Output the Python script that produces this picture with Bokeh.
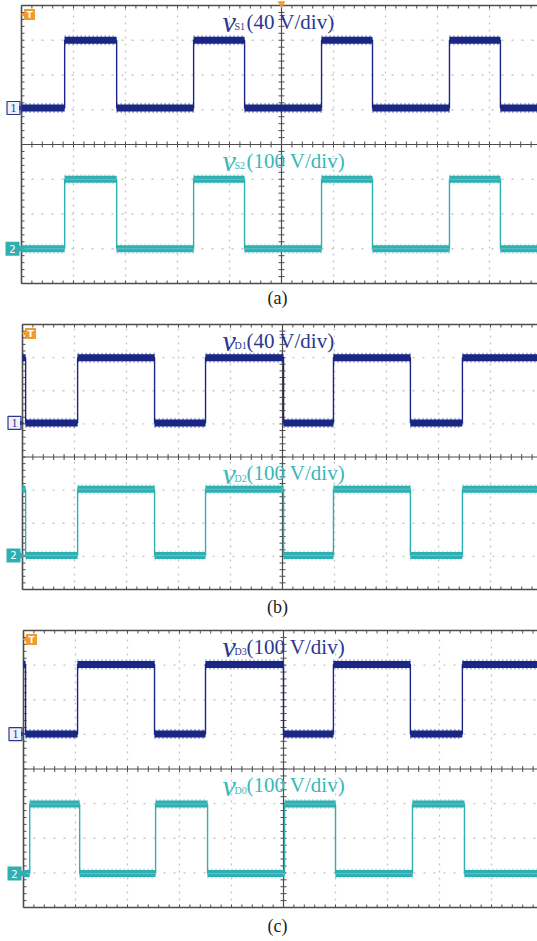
import numpy as np
from bokeh.plotting import figure
from bokeh.models import Range1d
from bokeh.layouts import column
from bokeh.core.properties import value
from bokeh.embed import file_html
from bokeh.resources import INLINE

# ---------------- data (divisions) ----------------
captions = ["(a)", "(b)", "(c)"]
ch1_subs = ["S1", "D1", "D3"]
ch1_scales = ["(40 V/div)", "(40 V/div)", "(100 V/div)"]
ch2_subs = ["S2", "D2", "D0"]
ch2_scales = ["(100 V/div)", "(100 V/div)", "(100 V/div)"]

# switching edges (time, in horizontal divisions from the screen's left edge)
a_ch1_edges = [0.83, 1.83, 3.31, 4.29, 5.77, 6.75, 8.23, 9.21]
a_ch2_edges = [0.83, 1.83, 3.31, 4.29, 5.77, 6.75, 8.23, 9.21]
b_ch1_edges = [0.06, 1.06, 2.54, 3.52, 5.02, 5.98, 7.46, 8.46]
b_ch2_edges = [0.06, 1.06, 2.54, 3.52, 5.02, 5.98, 7.46, 8.46]
c_ch1_edges = [0.04, 1.04, 2.52, 3.50, 5.00, 5.96, 7.44, 8.44]
c_ch2_edges = [0.12, 1.08, 2.54, 3.54, 5.02, 6.00, 7.48, 8.48]

# initial state (True = high) at the screen's left edge
a_ch1_start_high, a_ch2_start_high = False, False
b_ch1_start_high, b_ch2_start_high = True, True
c_ch1_start_high, c_ch2_start_high = True, False

# levels (vertical divisions, screen centre = 0)
a_ch1_levels = [3.0, 1.05]
a_ch2_levels = [-1.0, -3.0]
b_ch1_levels = [3.0, 1.03]
b_ch2_levels = [-0.97, -2.97]
c_ch1_levels = [3.02, 1.01]
c_ch2_levels = [-1.01, -3.02]

# ---------------- styling / layout ----------------
W = 537
DIV_W = 52.0
N_X, N_Y = 10, 4
BLUE = "#1a2683"
BLUE_TXT = "#2b3790"
TEAL = "#2fafb2"
TEAL_TXT = "#3ab7b9"
ORANGE = "#f29a2e"
GRID = "#a8a8a8"
FRAME = "#4d4d4d"
SERIF = value("Liberation Serif")

layouts = [
    dict(h=315, top=5, bot=283, left=21, cap_off=14),
    dict(h=305, top=9, bot=274, left=22, cap_off=17),
    dict(h=321, top=10, bot=287, left=23, cap_off=18),
]


def step_wave(edges, start_high, levels):
    hi, lo = levels
    bounds = [0.0] + list(edges) + [float(N_X)]
    xs, ys, x0, x1, yy = [], [], [], [], []
    state = start_high
    for i in range(len(bounds) - 1):
        lvl = hi if state else lo
        xs += [bounds[i], bounds[i + 1]]
        ys += [lvl, lvl]
        x0.append(bounds[i])
        x1.append(bounds[i + 1])
        yy.append(lvl)
        state = not state
    return xs, ys, x0, x1, yy


def draw_trace(p, edges, start_high, levels, color, band_w, spike_alpha, light=None):
    xs, ys, x0, x1, yy = step_wave(edges, start_high, levels)
    p.line(xs, ys, line_color=color, line_width=1.4)
    p.segment(x0, yy, x1, yy, line_color=color, line_width=band_w + 3,
              line_dash="1 3", line_alpha=spike_alpha, line_cap="butt")
    p.segment(x0, yy, x1, yy, line_color=color, line_width=band_w, line_cap="butt")
    if light:
        p.segment(x0, yy, x1, yy, line_color=light, line_width=1,
                  line_alpha=0.4, line_cap="butt")


def make_panel(k, ch1, ch2):
    L = layouts[k]
    H = L["h"]
    dh = (L["bot"] - L["top"]) / (2.0 * N_Y)
    dw = DIV_W
    p = figure(width=W, height=H,
               x_range=Range1d(-L["left"] / dw, (W - L["left"]) / dw),
               y_range=Range1d(-N_Y - (H - L["bot"]) / dh, N_Y + L["top"] / dh),
               output_backend="svg", toolbar_location=None,
               x_axis_location=None, y_axis_location=None,
               min_border=0, outline_line_color=None,
               background_fill_color="white", border_fill_color="white")
    p.grid.visible = False

    # dotted division grid (inside the screen only)
    gx = [i for i in range(1, N_X) if i != N_X // 2]
    gy = [j for j in range(-N_Y + 1, N_Y) if j != 0]
    p.segment(gx, -N_Y, gx, N_Y, line_color=GRID, line_width=1.3,
              line_dash="2 5", line_alpha=0.65)
    p.segment(0, gy, N_X, gy, line_color=GRID, line_width=1.3,
              line_dash="2 8", line_alpha=0.65)

    # screen frame and centre lines
    fx0 = [0, 0, 0, 0, N_X / 2]
    fy0 = [N_Y, 0, -N_Y, -N_Y, -N_Y]
    fx1 = [N_X, N_X, N_X, 0, N_X / 2]
    fy1 = [N_Y, 0, -N_Y, N_Y, N_Y]
    fw = [1.6, 1.2, 1.6, 1.6, 1.2]
    p.segment(fx0, fy0, fx1, fy1, line_color=FRAME, line_width=fw)

    mx = np.round(np.arange(0, N_X + 0.001, 0.2), 2)
    my = np.round(np.arange(-N_Y, N_Y + 0.001, 0.2), 2)
    ty = 3.0 / dh
    tx = 3.0 / dw
    p.segment(mx, -ty, mx, ty, line_color=FRAME, line_width=1)
    p.segment(mx, N_Y, mx, N_Y - ty, line_color=FRAME, line_width=1)
    p.segment(mx, -N_Y, mx, -N_Y + ty, line_color=FRAME, line_width=1)
    p.segment(N_X / 2 - tx, my, N_X / 2 + tx, my, line_color=FRAME, line_width=1)
    p.segment(0, my, tx, my, line_color=FRAME, line_width=1)

    # traces
    draw_trace(p, ch1[0], ch1[1], ch1[2], BLUE, 7, 0.6)
    draw_trace(p, ch2[0], ch2[1], ch2[2], TEAL, 7, 0.5, light="#a6e0e0")

    # channel labels
    lx = (222 - L["left"]) / dw
    for ytop, sub, scale, col in [(N_Y, ch1_subs[k], ch1_scales[k], BLUE_TXT),
                                  (0, ch2_subs[k], ch2_scales[k], TEAL_TXT)]:
        p.text(x=[lx], y=[ytop], text=["v"], text_font=SERIF, text_font_style="italic",
               text_font_size="30px", text_color=col, text_baseline="alphabetic",
               y_offset=16)
        p.text(x=[lx], y=[ytop], text=[sub], text_font=SERIF, text_font_size="10px",
               text_color=col, text_baseline="alphabetic", x_offset=12, y_offset=21)
        p.text(x=[lx], y=[ytop], text=[scale], text_font=SERIF, text_font_size="21px",
               text_color=col, text_baseline="alphabetic", x_offset=24, y_offset=16)

    # ground markers
    lo1 = ch1[2][1]
    lo2 = ch2[2][1]
    p.scatter([-8 / dw], [lo1], marker="square", size=13, line_color=BLUE_TXT,
              fill_color="#eef0fa", line_width=1.2)
    p.scatter([-1 / dw], [lo1], marker="triangle", angle=-np.pi / 2, size=5,
              fill_color=BLUE_TXT, line_color=None)
    p.text(x=[-8 / dw], y=[lo1], text=["1"], text_font=SERIF, text_font_size="12px",
           text_color=BLUE_TXT, text_align="center", text_baseline="middle")
    p.scatter([-9 / dw], [lo2], marker="square", size=14, fill_color=TEAL,
              line_color=None)
    p.scatter([-1 / dw], [lo2], marker="triangle", angle=-np.pi / 2, size=7,
              fill_color=TEAL, line_color=None)
    p.text(x=[-9 / dw], y=[lo2], text=["2"], text_font=value("DejaVu Sans"),
           text_font_size="10px", text_color="white", text_align="center",
           text_baseline="middle")

    # trigger marker
    ty_m = N_Y - 9 / dh
    p.scatter([8 / dw], [ty_m], marker="square", size=11, fill_color=ORANGE, line_color=None)
    p.scatter([2.5 / dw], [ty_m], marker="triangle", angle=np.pi / 2, size=6,
              fill_color=ORANGE, line_color=None)
    p.text(x=[8 / dw], y=[ty_m], text=["T"], text_font=value("DejaVu Sans"),
           text_font_style="bold", text_font_size="9px", text_color="white",
           text_align="center", text_baseline="middle")
    if k == 0:
        p.scatter([N_X / 2], [N_Y + 2 / dh], marker="inverted_triangle", size=8,
                  fill_color=ORANGE, line_color=None)

    # caption
    p.text(x=[(277 - L["left"]) / dw], y=[-N_Y], text=[captions[k]], text_font=SERIF,
           text_font_size="18px", text_color="#222222", text_align="center",
           text_baseline="middle", y_offset=L["cap_off"])
    return p


pa = make_panel(0, (a_ch1_edges, a_ch1_start_high, a_ch1_levels),
                (a_ch2_edges, a_ch2_start_high, a_ch2_levels))
pb = make_panel(1, (b_ch1_edges, b_ch1_start_high, b_ch1_levels),
                (b_ch2_edges, b_ch2_start_high, b_ch2_levels))
pc = make_panel(2, (c_ch1_edges, c_ch1_start_high, c_ch1_levels),
                (c_ch2_edges, c_ch2_start_high, c_ch2_levels))

layout = column(pa, pb, pc, spacing=0)
open("out.html", "w").write(file_html(layout, INLINE))
